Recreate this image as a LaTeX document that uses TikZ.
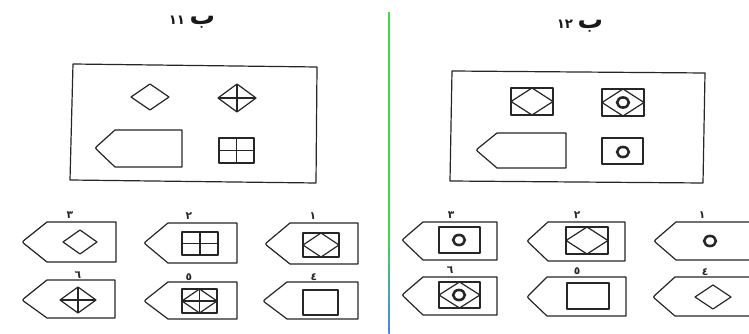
\documentclass[tikz,border=0pt]{standalone}
\usepackage{fontspec}
\usetikzlibrary{calc}
\TeXXeTstate=1
\newfontfamily\arabicfont[Script=Arabic]{DejaVu Sans}
\definecolor{divgreen}{RGB}{60,220,70}
\definecolor{divcyan}{RGB}{80,210,220}
\definecolor{divblue}{RGB}{70,130,250}
\tikzset{
  ln/.style={draw=black!85, line width=0.9pt, line join=round},
  ringst/.style={draw=black!85, line width=1.9pt},
  lbl/.style={font=\arabicfont\bfseries\fontsize{8}{8}\selectfont, inner sep=0pt, text=black!85},
  ttl/.style={font=\arabicfont\bfseries, inner sep=0pt, text=black!90}
}
\newcommand\bigba{{\fontsize{19}{19}\selectfont ب}}
\newcommand\smnum[1]{{\fontsize{10}{10}\selectfont #1}}
% tag: tip x, tip y, slant x, top y, right x, bottom y
\newcommand\tagshp[6]{\draw[ln] (#5,#4) -- (#3,#4) -- ($(#1,#2)!3pt!(#3,#4)$) .. controls (#1,#2) .. ($(#1,#2)!3pt!(#3,#6)$) -- (#3,#6) -- (#5,#6) -- cycle;}
% square: x1 y1 x2 y2
\newcommand\sqbox[4]{\draw[ln] (#1,#2) rectangle (#3,#4);}
\newcommand\sqdia[4]{\draw[ln] ({(#1+#3)/2},#2) -- (#3,{(#2+#4)/2}) -- ({(#1+#3)/2},#4) -- (#1,{(#2+#4)/2}) -- cycle;}
\newcommand\sqcross[4]{\draw[ln] ({(#1+#3)/2},#2) -- ({(#1+#3)/2},#4) (#1,{(#2+#4)/2}) -- (#3,{(#2+#4)/2});}
% diamond: cx cy hw hh
\newcommand\dia[4]{\draw[ln] ({#1-#3},#2) -- (#1,{#2-#4}) -- ({#1+#3},#2) -- (#1,{#2+#4}) -- cycle;}
\newcommand\diacross[4]{\draw[ln] ({#1-#3},#2) -- ({#1+#3},#2) (#1,{#2-#4}) -- (#1,{#2+#4});}
\newcommand\ringat[2]{\draw[ringst] (#1,#2) ellipse[x radius=4.4pt, y radius=3.8pt];}
\begin{document}
\begin{tikzpicture}[x=0.75pt,y=-0.75pt]
\useasboundingbox (0,0) rectangle (749,334);
\fill[white] (0,0) rectangle (749,334);
\clip (0,0) rectangle (749,334);
% divider
\fill[divgreen] (388.3,12) rectangle (389.8,235);
\shade[top color=divgreen, middle color=divcyan, bottom color=divblue] (388.3,234.5) rectangle (389.8,334);

% ---------------- Left panel ----------------
\node[ttl] (t11) at (192,22) {\beginR\bigba\ \beginL\smnum{١١}\endL\endR};
\draw[ln] (73,64) -- (317,67) -- (316,183) -- (70,180) -- cycle;
\dia{150}{97}{19}{13}
\dia{237}{98}{19}{14}
\diacross{237}{98}{19}{14}
\tagshp{95}{148}{115}{130}{182}{167}
\sqbox{219}{138}{254}{163}
\sqcross{219}{138}{254}{163}

% row 1
\node[lbl] (l3) at (70,215) {٣};
\tagshp{22}{242}{47}{222}{116}{262}
\dia{80}{242}{17}{12}
\node[lbl] (l2) at (189,216) {٢};
\tagshp{144}{243}{168}{223}{237}{263}
\sqbox{182}{232}{218}{255}
\sqcross{182}{232}{218}{255}
\node[lbl] (l1) at (313,216) {١};
\tagshp{265}{244}{290}{223}{358}{264}
\sqbox{303}{233}{339}{257}
\sqdia{303}{233}{339}{257}
% row 2
\node[lbl] (l6) at (78,275) {٦};
\tagshp{22}{300}{47}{280}{115}{318}
\dia{78}{300}{18}{13}
\diacross{78}{300}{18}{13}
\node[lbl] (l5) at (189,277) {٥};
\tagshp{144}{301}{168}{282}{237}{319}
\sqbox{182}{289}{217}{313}
\sqdia{182}{289}{217}{313}
\sqcross{182}{289}{217}{313}
\node[lbl] (l4) at (314,277) {٤};
\tagshp{263}{301}{287}{282}{358}{319}
\sqbox{303}{290}{338}{315}

% ---------------- Right panel ----------------
\node[ttl] (t12) at (580,26) {\beginR\bigba\ \beginL\smnum{١٢}\endL\endR};
\draw[ln] (452,71) -- (705,73) -- (703,183) -- (450,181) -- cycle;
\sqbox{511}{88}{553}{115}
\sqdia{511}{88}{553}{115}
\sqbox{602}{89}{644}{116}
\sqdia{602}{89}{644}{116}
\ringat{623}{102.5}
\tagshp{476}{150}{497}{133}{566}{168}
\sqbox{602}{138}{643}{164}
\ringat{623}{152}

% row 1
\node[lbl] (r3) at (451,215) {٣};
\tagshp{402}{240}{423}{222}{497}{260}
\sqbox{439}{227}{480}{253}
\ringat{459}{240}
\node[lbl] (r2) at (577,215) {٢};
\tagshp{527}{241}{548}{222}{625}{261}
\sqbox{566}{227}{608}{254}
\sqdia{566}{227}{608}{254}
\node[lbl] (r1) at (702,215) {١};
\tagshp{654}{241}{676}{222}{760}{260}
\ringat{710}{241}
% row 2
\node[lbl] (r6) at (450,270) {٦};
\tagshp{402}{295}{423}{277}{497}{315}
\sqbox{439}{282}{480}{308}
\sqdia{439}{282}{480}{308}
\ringat{459}{295}
\node[lbl] (r5) at (577,271) {٥};
\tagshp{527}{297}{547}{277}{626}{316}
\sqbox{567}{283}{609}{309}
\node[lbl] (r4) at (705,272) {٤};
\tagshp{653}{297}{675}{277}{760}{316}
\dia{713}{297}{18}{12}
\end{tikzpicture}
\end{document}
